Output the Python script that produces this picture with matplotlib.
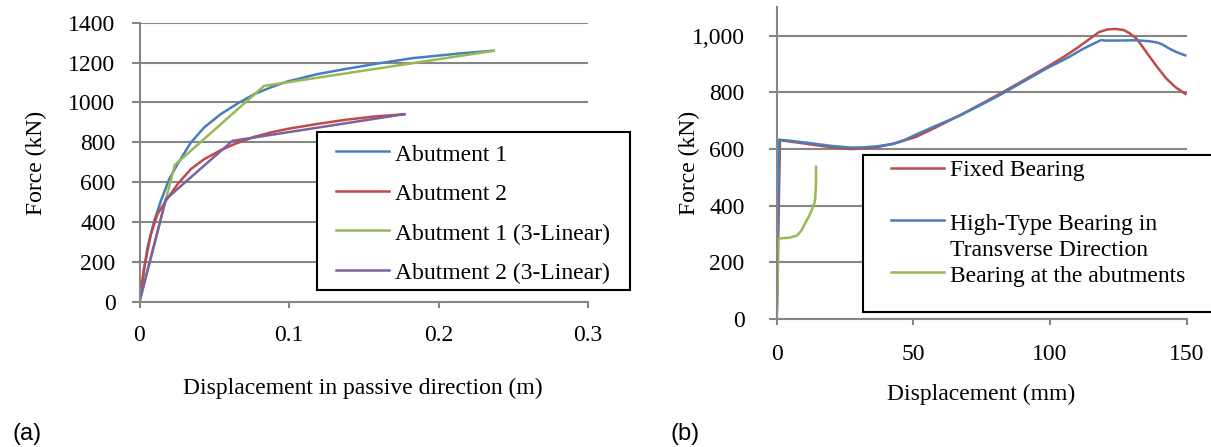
import matplotlib
matplotlib.use("Agg")
import matplotlib.pyplot as plt
from matplotlib.patches import Rectangle
from matplotlib.lines import Line2D
from matplotlib.ticker import FuncFormatter

# ---------------- data: panel (a) ----------------
a1_x = [0, 0.0053, 0.0098, 0.0143, 0.0198, 0.0254, 0.0343, 0.0432, 0.0543, 0.0655,
        0.0766, 0.0877, 0.0989, 0.119, 0.138, 0.160, 0.1826, 0.216, 0.2378]
a1_y = [0, 271, 405, 506, 614, 690, 798, 874, 941, 994,
        1041, 1075, 1105, 1142, 1168, 1196, 1222, 1247, 1260]

a2_x = [0, 0.0031, 0.0076, 0.012, 0.0176, 0.0254, 0.0343, 0.0432, 0.0543, 0.0633,
        0.0766, 0.0877, 0.0989, 0.119, 0.138, 0.158, 0.178]
a2_y = [0, 171, 338, 439, 506, 589, 665, 715, 760, 790,
        827, 849, 867, 892, 913, 930, 941]

a1_lin_x = [0, 0.0236, 0.0833, 0.2378]
a1_lin_y = [0, 686, 1083, 1260]

a2_lin_x = [0, 0.0176, 0.0621, 0.178]
a2_lin_y = [0, 514, 807, 942]

labels_a = ["Abutment 1", "Abutment 2", "Abutment 1 (3-Linear)", "Abutment 2 (3-Linear)"]
xticks_a = [0, 0.1, 0.2, 0.3]
xticklabels_a = ["0", "0.1", "0.2", "0.3"]
yticks_a = [0, 200, 400, 600, 800, 1000, 1200, 1400]

# ---------------- data: panel (b) ----------------
fixed_x = [0, 1.2, 6, 12, 20, 27, 32, 37, 44, 51, 58, 67, 75, 83, 91, 99, 105, 110,
           114, 118, 121, 124, 127, 129, 131.6, 134, 136.5, 139, 142.6, 146, 150]
fixed_y = [0, 631, 625, 617, 606, 600, 602, 607, 622, 643, 675, 719, 760, 802, 846, 890,
           925, 957, 985, 1013, 1022, 1024, 1020, 1010, 991, 960, 926, 893, 849, 818, 792]

high_x = [0, 0.9, 6, 12, 20, 27, 32, 37, 42.6, 47, 51.2, 58, 67, 75, 82.9, 91, 98.7,
          103, 107.2, 112, 116, 118.8, 120, 125, 131.6, 136, 138.9, 141, 142.6, 144,
          146.2, 148, 150]
high_y = [0, 633, 628, 621, 611, 605, 606, 610, 618, 633, 652, 681, 718, 757, 797, 842,
          884, 905, 926, 953, 972, 985, 983, 983, 984, 981, 977, 970, 961, 953,
          943, 936, 929]

abut_x = [0, 0.4, 0.6, 2, 4.75, 7.5, 9, 10.3, 11.8, 13, 13.8, 14.1, 14.3, 14.4, 14.4]
abut_y = [0, 150, 283, 285, 287, 295, 312, 336, 362, 389, 410, 425, 460, 489, 542]

labels_b = ["Fixed Bearing", "High-Type Bearing in\nTransverse Direction",
            "Bearing at the abutments"]
xticks_b = [0, 50, 100, 150]
yticks_b = [0, 200, 400, 600, 800, 1000]

# ---------------- style ----------------
W, H = 1211, 447
BLUE, RED, GREEN, PURPLE = "#4A7EBB", "#BE4B48", "#98B954", "#7D60A0"
GRID = "#868686"
FS = 17
LW = 1.8

plt.rcParams["font.family"] = ["Liberation Serif", "DejaVu Serif"]
plt.rcParams["font.size"] = FS

fig = plt.figure(figsize=(W / 100, H / 100), dpi=100)


def fx(px):
    return px / W


def fy(py):
    return 1 - py / H


def style_axes(ax, ytick_len_px, xtick_len_px, ypad_px, xpad_px):
    for s in ("top", "right"):
        ax.spines[s].set_visible(False)
    for s in ("left", "bottom"):
        ax.spines[s].set_color(GRID)
        ax.spines[s].set_linewidth(1.5)
    ax.grid(axis="y", color=GRID, linewidth=1.5)
    ax.set_axisbelow(True)
    ax.tick_params(axis="y", direction="out", length=ytick_len_px * 0.72, width=1.5,
                   color=GRID, pad=ypad_px * 0.72, labelsize=FS)
    ax.tick_params(axis="x", direction="out", length=xtick_len_px * 0.72, width=1.5,
                   color=GRID, pad=xpad_px * 0.72, labelsize=FS)


# ---------------- panel (a) ----------------
axa = fig.add_axes([fx(139.5), fy(301.7), (588 - 139.5) / W, (301.7 - 22.7) / H])
axa.plot(a1_x, a1_y, color=BLUE, lw=LW, solid_capstyle="butt")
axa.plot(a2_x, a2_y, color=RED, lw=LW, solid_capstyle="butt")
axa.plot(a1_lin_x, a1_lin_y, color=GREEN, lw=LW, solid_capstyle="butt")
axa.plot(a2_lin_x, a2_lin_y, color=PURPLE, lw=LW, solid_capstyle="butt")
axa.set_xlim(0, 0.3)
axa.set_ylim(0, 1400)
axa.set_xticks(xticks_a)
axa.set_xticklabels(xticklabels_a)
axa.set_yticks(yticks_a)
style_axes(axa, 8, 6, 16, 17)
axa.set_xlabel("Displacement in passive direction (m)")
axa.xaxis.label.set_va("center")
axa.xaxis.set_label_coords(fx(363), fy(388), transform=fig.transFigure)
axa.set_ylabel("Force (kN)")
axa.yaxis.label.set_va("center")
axa.yaxis.set_label_coords(fx(36), fy(162.5), transform=fig.transFigure)

# ---------------- panel (b) ----------------
axb = fig.add_axes([fx(776.7), fy(319), (1186.5 - 776.7) / W, (319 - 7.4) / H])
axb.plot(fixed_x, fixed_y, color=RED, lw=LW, solid_capstyle="butt")
axb.plot(high_x, high_y, color=BLUE, lw=LW, solid_capstyle="butt")
axb.plot(abut_x, abut_y, color=GREEN, lw=LW, solid_capstyle="butt")
axb.set_xlim(0, 150)
axb.set_ylim(0, 1100)
axb.set_xticks(xticks_b)
axb.set_yticks(yticks_b)
axb.yaxis.set_major_formatter(FuncFormatter(lambda v, p: f"{v:,.0f}"))
style_axes(axb, 8, 6, 24, 19)
axb.set_xlabel("Displacement (mm)")
axb.xaxis.label.set_va("center")
axb.xaxis.set_label_coords(fx(981.5), fy(394), transform=fig.transFigure)
axb.set_ylabel("Force (kN)")
axb.yaxis.label.set_va("center")
axb.yaxis.set_label_coords(fx(689.5), fy(162.5), transform=fig.transFigure)

# ---------------- legends (drawn in figure pixels) ----------------
def legend_box(x0, y0, x1, y1):
    r = Rectangle((fx(x0), fy(y1)), (x1 - x0) / W, (y1 - y0) / H,
                  transform=fig.transFigure, facecolor="white", edgecolor="black",
                  linewidth=1.5, zorder=10)
    fig.add_artist(r)


def legend_entry(color, hx0, hx1, hy, label, tx, baselines):
    fig.add_artist(Line2D([fx(hx0), fx(hx1)], [fy(hy), fy(hy)], color=color, lw=LW,
                          transform=fig.transFigure, zorder=11))
    for line, b in zip(label.split("\n"), baselines):
        fig.text(fx(tx), fy(b), line, ha="left", va="baseline", fontsize=FS, zorder=12)


legend_box(317.3, 132.3, 630, 290)
for color, lab, hy, b in zip([BLUE, RED, GREEN, PURPLE], labels_a,
                             [150.7, 190.7, 230, 270], [160.7, 200.3, 239.7, 278.7]):
    legend_entry(color, 336, 389, hy, lab, 395, [b])

legend_box(862.5, 155, 1225, 311.7)
for color, lab, hy, bl in zip([RED, BLUE, GREEN], labels_b,
                              [167.7, 220, 272.3],
                              [[176.3], [229.7, 256.3], [282]]):
    legend_entry(color, 891.4, 944.2, hy, lab, 949.5, bl)

# ---------------- panel tags ----------------
fig.text(fx(12), fy(434), "(a)", family=["Liberation Sans", "DejaVu Sans"], fontsize=FS,
         ha="left", va="center")
fig.text(fx(671), fy(434), "(b)", family=["Liberation Sans", "DejaVu Sans"], fontsize=FS,
         ha="left", va="center")

fig.savefig("out.png", dpi=100)
